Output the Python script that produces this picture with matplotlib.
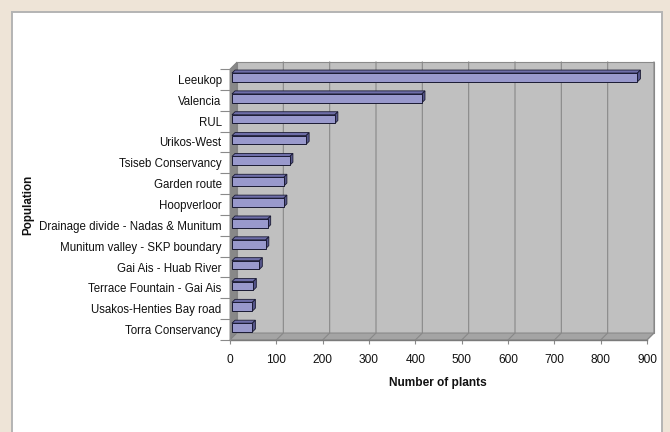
import numpy as np
import matplotlib
matplotlib.use("Agg")
import matplotlib.pyplot as plt
from matplotlib.patches import Rectangle, Polygon
from matplotlib.lines import Line2D
from matplotlib.transforms import offset_copy

plt.rcParams['font.family'] = ['Liberation Sans', 'DejaVu Sans']

populations = ["Leeukop", "Valencia", "RUL", "Urikos-West", "Tsiseb Conservancy",
               "Garden route", "Hoopverloor", "Drainage divide - Nadas & Munitum",
               "Munitum valley - SKP boundary", "Gai Ais - Huab River",
               "Terrace Fountain - Gai Ais", "Usakos-Henties Bay road",
               "Torra Conservancy"]
plants = [875, 410, 222, 160, 125, 112, 112, 77, 73, 59, 46, 44, 44]
x_ticks = [0, 100, 200, 300, 400, 500, 600, 700, 800, 900]

W, H = 670, 432
fig = plt.figure(figsize=(W / 100, H / 100), dpi=100)
fig.patch.set_facecolor('#EEE4D7')

def fx(px):
    return px / W

def fy(py):
    return 1 - py / H

# white chart area
fig.add_artist(Rectangle((fx(12), fy(440)), (662 - 12) / W, (440 - 12) / H,
                         transform=fig.transFigure, facecolor='white',
                         edgecolor='#B4B4B4', lw=1.4, zorder=0))

ax = fig.add_axes([fx(230), fy(340), (647 - 230) / W, (340 - 69) / H])
n = len(populations)
ax.set_xlim(x_ticks[0], x_ticks[-1])
ax.set_ylim(n - 0.5, -0.5)
ax.patch.set_visible(False)
for s in ax.spines.values():
    s.set_visible(False)

DEP = 7  # depth of the 3D box in pixels
T = ax.transData
Ti = T.inverted()

def D(x, y, dx=0, dy=0):
    p = T.transform((x, y))
    return Ti.transform((p[0] + dx, p[1] + dy))

ybot, ytop = n - 0.5, -0.5
xmax = x_ticks[-1]

# back wall
ax.add_patch(Rectangle((0, 0), 1, 1,
                       transform=offset_copy(ax.transAxes, fig=fig, x=DEP, y=DEP, units='dots'),
                       facecolor='#C0C0C0', edgecolor='#8A8A8A', lw=0.8, zorder=0, clip_on=False))
# left wall
ax.add_patch(Polygon([D(0, ybot), D(0, ytop), D(0, ytop, DEP, DEP), D(0, ybot, DEP, DEP)],
                     closed=True, facecolor='#888888', edgecolor='#808080', lw=0.6,
                     zorder=1, clip_on=False))
# floor
ax.add_patch(Polygon([D(0, ybot), D(xmax, ybot), D(xmax, ybot, DEP, DEP), D(0, ybot, DEP, DEP)],
                     closed=True, facecolor='#A4A4A4', edgecolor='#808080', lw=0.6,
                     zorder=1, clip_on=False))
# gridlines
for t in x_ticks[1:]:
    pts = np.array([D(t, ybot), D(t, ybot, DEP, DEP), D(t, ytop, DEP, DEP)])
    ax.add_line(Line2D(pts[:, 0], pts[:, 1], color='#888888', lw=0.8, zorder=1.5, clip_on=False))
# front bottom edge
ax.add_line(Line2D([0, xmax], [ybot, ybot], color='#7A7A7A', lw=1.0, zorder=2, clip_on=False))

# bars (3D)
h = 0.42
B0, B1 = 2, 5
face_tr = offset_copy(ax.transData, fig=fig, x=B0, y=B0, units='dots')
for i, v in enumerate(plants):
    top = i - h / 2
    bot = i + h / 2
    ax.add_patch(Polygon([D(0, top, B0, B0), D(v, top, B0, B0), D(v, top, B1, B1), D(0, top, B1, B1)],
                         closed=True, facecolor='#6E6EA8', edgecolor='#1A1A33', lw=0.6,
                         zorder=3, clip_on=False))
    ax.add_patch(Polygon([D(v, top, B0, B0), D(v, bot, B0, B0), D(v, bot, B1, B1), D(v, top, B1, B1)],
                         closed=True, facecolor='#55558A', edgecolor='#1A1A33', lw=0.6,
                         zorder=3, clip_on=False))
ax.barh(range(n), plants, height=h, color='#9999CC', edgecolor='#1A1A33', lw=0.7,
        transform=face_tr, zorder=4, clip_on=False)

# y axis ticks / labels
ax.set_yticks(range(n))
ax.set_yticklabels(populations, fontsize=8.3, color='#111111')
ax.tick_params(axis='y', which='major', length=0, pad=6)
ax.set_yticks(np.arange(-0.5, n, 1), minor=True)
ax.tick_params(axis='y', which='minor', length=7, width=0.8, color='#8A8A8A')
ax.add_line(Line2D([0, 0], [ybot, ytop], color='#8A8A8A', lw=0.8, zorder=2, clip_on=False))

# x axis ticks / labels
ax.set_xticks(x_ticks)
ax.set_xticklabels([str(t) for t in x_ticks], fontsize=8.6, color='#111111')
ax.tick_params(axis='x', which='major', length=3, width=0.8, color='#8A8A8A', pad=7)

fig.text(fx(438), fy(383), 'Number of plants', fontsize=8.6, fontweight='bold',
         ha='center', va='center', color='#111111')
fig.text(fx(28), fy(205), 'Population', fontsize=8.4, fontweight='bold', rotation=90,
         ha='center', va='center', color='#111111')

fig.savefig('out.png', dpi=100, facecolor=fig.get_facecolor())
